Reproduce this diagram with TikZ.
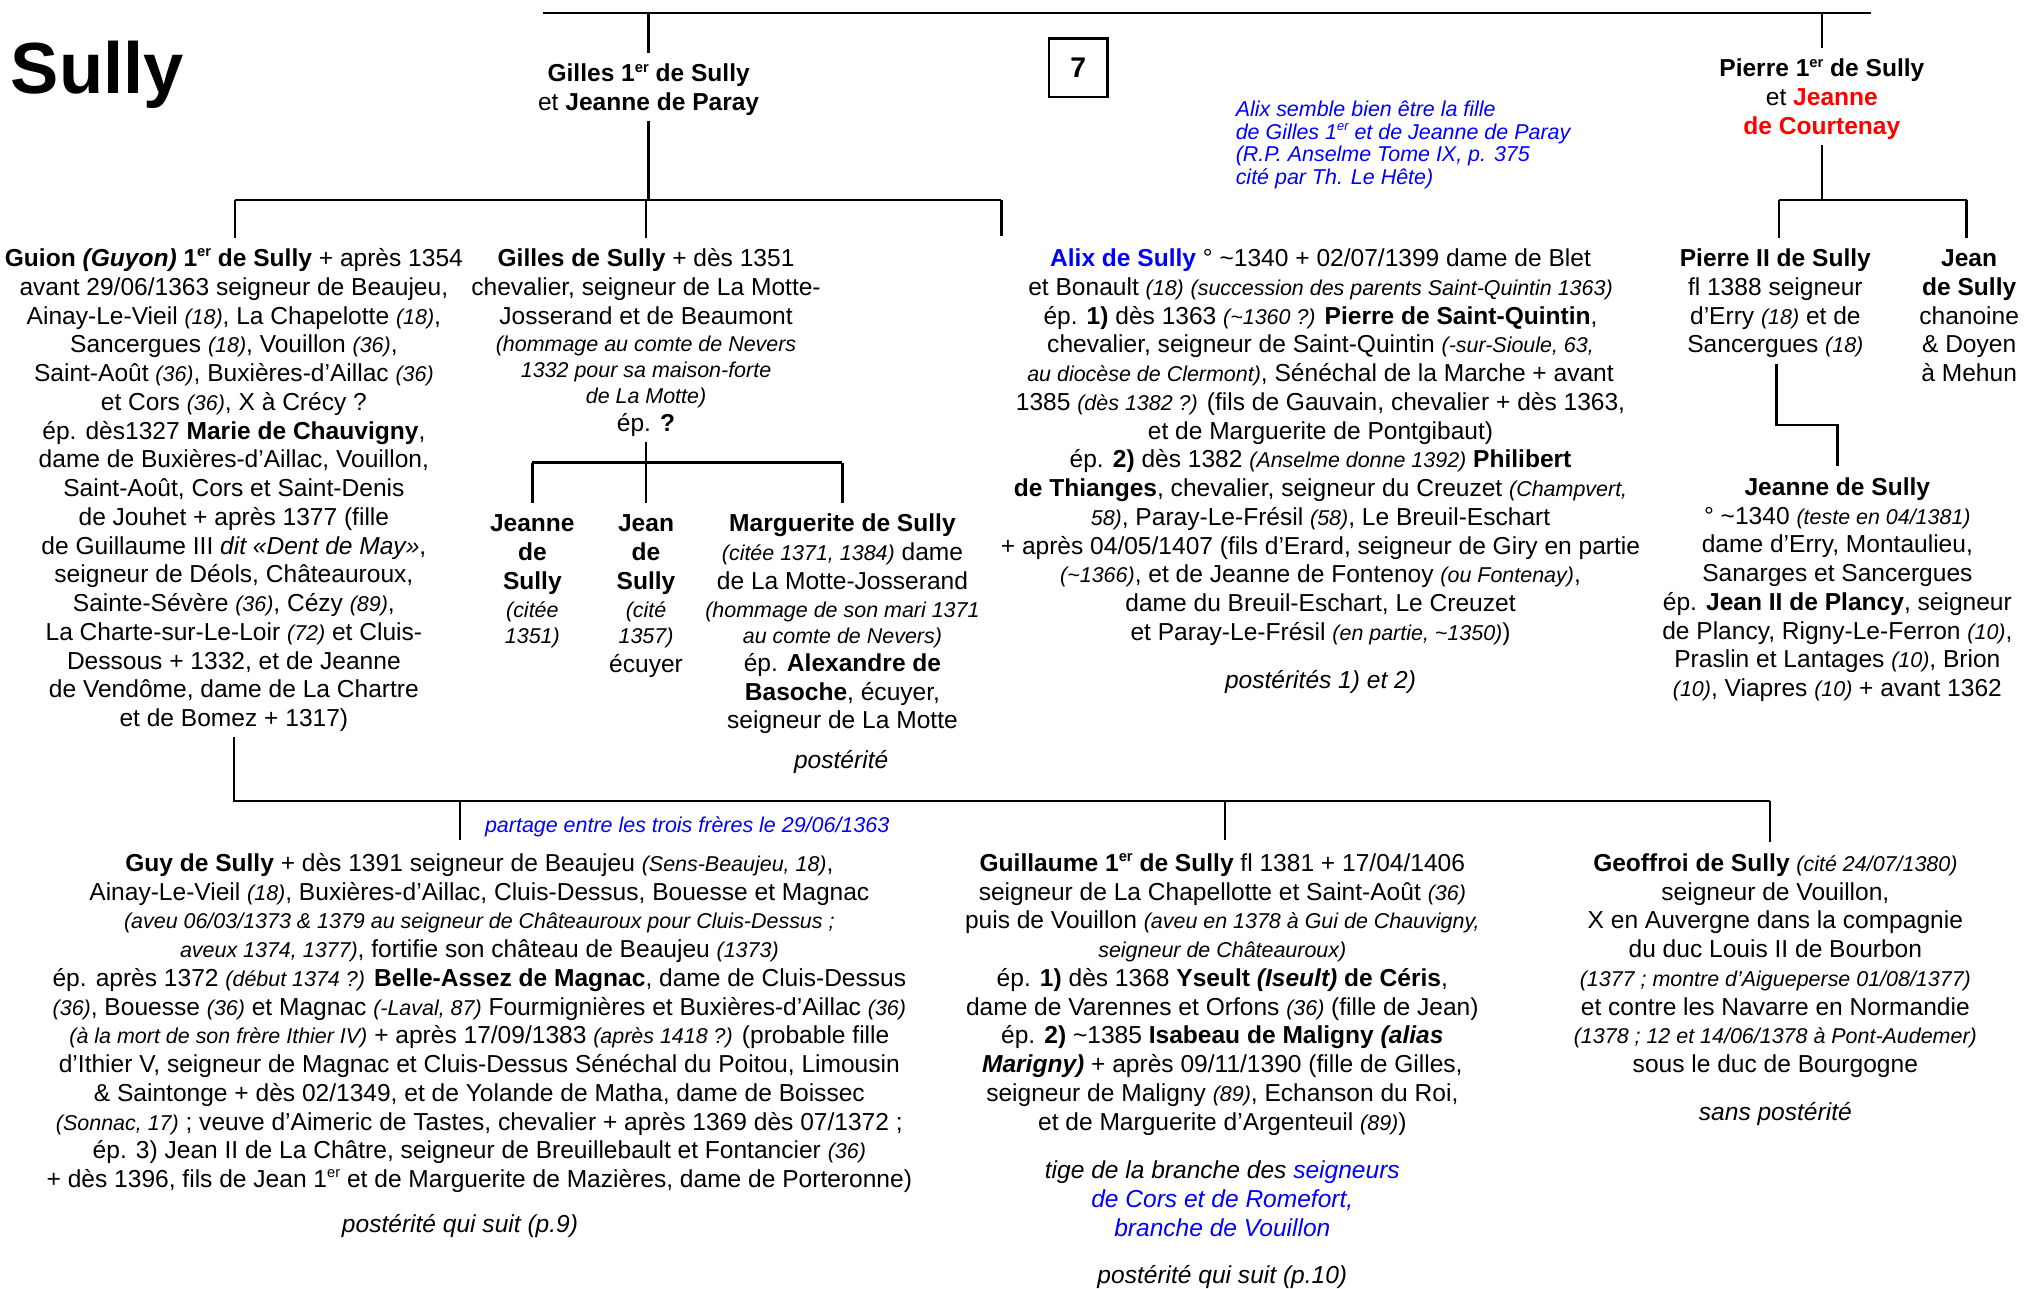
\documentclass[tikz,border=0pt]{standalone}
\usepackage{fontspec}
\setmainfont{Liberation Sans}
\newcommand\sm[1]{{\fontsize{8.3}{10}\selectfont\itshape #1}}
\newcommand\st{\rule{0pt}{9pt}}
\newcommand\er{\raisebox{0.75ex}{\scalebox{0.6}{er}}}
\newcommand\tl{\textasciitilde}
\tikzset{
 body/.style={font=\fontsize{9.5}{11.125}\selectfont},
 blk/.style={body, align=center, anchor=north, inner xsep=0pt, inner ysep=2pt},
 note/.style={font=\fontsize{9.5}{11.125}\selectfont\itshape, anchor=base, inner sep=0pt},
 bnote/.style={font=\fontsize{8.3}{8.85}\selectfont\itshape, text=blue, align=left, inner sep=0pt},
 link/.style={line width=0.9pt},
}
\begin{document}
\begin{tikzpicture}[x=0.5pt,y=-0.5pt]
\useasboundingbox (0,0) rectangle (1568,997);

% title and page number
\node[font=\fontsize{28}{30}\selectfont\bfseries, anchor=base west, inner sep=0pt] (title) at (8,72) {Sully};
\node[draw, line width=1pt, minimum width=22.5pt, minimum height=22.5pt, inner sep=0pt,
      font=\fontsize{11}{13}\selectfont\bfseries] (pg) at (834.5,52.5) {7};

% generation 1
\node[blk] (g1) at (502,41) {\st\textbf{Gilles 1\er{} de Sully}\\ et \textbf{Jeanne de Paray}};
\node[blk] (p1) at (1410,37) {\st\textbf{Pierre 1\er{} de Sully}\\ et \textcolor{red}{\textbf{Jeanne}}\\ \textcolor{red}{\textbf{de Courtenay}}};

\node[bnote, anchor=north west] (anote) at (956,74.5) {\rule{0pt}{7.5pt}Alix semble bien être la fille\\
de Gilles 1\er{} et de Jeanne de Paray\\
(R.P. Anselme Tome IX, p. 375\\
cité par Th. Le Hête)};

% generation 2
\node[blk] (guion) at (181,184) {\st\textbf{Guion \textit{(Guyon)} 1\er{} de Sully} + après 1354\\
avant 29/06/1363 seigneur de Beaujeu,\\
Ainay-Le-Vieil \sm{(18)}, La Chapelotte \sm{(18)},\\
Sancergues \sm{(18)}, Vouillon \sm{(36)},\\
Saint-Août \sm{(36)}, Buxières-d’Aillac \sm{(36)}\\
et Cors \sm{(36)}, X à Crécy ?\\
ép. dès1327 \textbf{Marie de Chauvigny},\\
dame de Buxières-d’Aillac, Vouillon,\\
Saint-Août, Cors et Saint-Denis\\
de Jouhet + après 1377 (fille\\
de Guillaume III \textit{dit «Dent de May»},\\
seigneur de Déols, Châteauroux,\\
Sainte-Sévère \sm{(36)}, Cézy \sm{(89)},\\
La Charte-sur-Le-Loir \sm{(72)} et Cluis-\\
Dessous + 1332, et de Jeanne\\
de Vendôme, dame de La Chartre\\
et de Bomez + 1317)};

\node[blk] (gilles) at (500,184) {\st\textbf{Gilles de Sully} + dès 1351\\
chevalier, seigneur de La Motte-\\
Josserand et de Beaumont\\[-0.5pt]
\sm{(hommage au comte de Nevers}\\[-1pt]
\sm{1332 pour sa maison-forte}\\[-1pt]
\sm{de La Motte)}\\[-0.5pt]
ép. \textbf{?}};

\node[blk] (alix) at (1022,184) {\st\textcolor{blue}{\textbf{Alix de Sully}} ° \tl1340 + 02/07/1399 dame de Blet\\
et Bonault \sm{(18)} \sm{(succession des parents Saint-Quintin 1363)}\\
ép. \textbf{1)} dès 1363 \sm{(\tl1360 ?)} \textbf{Pierre de Saint-Quintin},\\
chevalier, seigneur de Saint-Quintin \sm{(-sur-Sioule, 63,}\\
\sm{au diocèse de Clermont)}, Sénéchal de la Marche + avant\\
1385 \sm{(dès 1382 ?)} (fils de Gauvain, chevalier + dès 1363,\\
et de Marguerite de Pontgibaut)\\
ép. \textbf{2)} dès 1382 \sm{(Anselme donne 1392)} \textbf{Philibert}\\
\textbf{de Thianges}, chevalier, seigneur du Creuzet \sm{(Champvert,}\\
\sm{58)}, Paray-Le-Frésil \sm{(58)}, Le Breuil-Eschart\\
+ après 04/05/1407 (fils d’Erard, seigneur de Giry en partie\\
\sm{(\tl1366)}, et de Jeanne de Fontenoy \sm{(ou Fontenay)},\\
dame du Breuil-Eschart, Le Creuzet\\
et Paray-Le-Frésil \sm{(en partie, \tl1350)})};
\node[note] (alixp) at (1022,533) {postérités 1) et 2)};

\node[blk] (p2) at (1374,184) {\st\textbf{Pierre II de Sully}\\ fl 1388 seigneur\\ d’Erry \sm{(18)} et de\\ Sancergues \sm{(18)}};
\node[blk] (jean) at (1524,184) {\st\textbf{Jean}\\ \textbf{de Sully}\\ chanoine\\ \& Doyen\\ à Mehun};

\node[blk] (jeanne) at (1422,361) {\st\textbf{Jeanne de Sully}\\
° \tl1340 \sm{(teste en 04/1381)}\\
dame d’Erry, Montaulieu,\\
Sanarges et Sancergues\\
ép. \textbf{Jean II de Plancy}, seigneur\\
de Plancy, Rigny-Le-Ferron \sm{(10)},\\
Praslin et Lantages \sm{(10)}, Brion\\
\sm{(10)}, Viapres \sm{(10)} + avant 1362};

% children of Gilles de Sully
\node[blk] (cj1) at (412,389) {\st\textbf{Jeanne}\\ \textbf{de}\\ \textbf{Sully}\\ \sm{(citée}\\[-1pt] \sm{1351)}};
\node[blk] (cj2) at (500,389) {\st\textbf{Jean}\\ \textbf{de}\\ \textbf{Sully}\\ \sm{(cité}\\[-1pt] \sm{1357)}\\ écuyer};
\node[blk] (marg) at (652,389) {\st\textbf{Marguerite de Sully}\\
\sm{(citée 1371, 1384)} dame\\
de La Motte-Josserand\\
\sm{(hommage de son mari 1371}\\[-1pt]
\sm{au comte de Nevers)}\\[-0.5pt]
ép. \textbf{Alexandre de}\\
\textbf{Basoche}, écuyer,\\
seigneur de La Motte};
\node[note] (margp) at (651,595) {postérité};

% generation 3
\node[bnote, anchor=base west] (partage) at (375,644) {partage entre les trois frères le 29/06/1363};

\node[blk] (guy) at (371,652) {\st\textbf{Guy de Sully} + dès 1391 seigneur de Beaujeu \sm{(Sens-Beaujeu, 18)},\\
Ainay-Le-Vieil \sm{(18)}, Buxières-d’Aillac, Cluis-Dessus, Bouesse et Magnac\\
\sm{(aveu 06/03/1373 \& 1379 au seigneur de Châteauroux pour Cluis-Dessus ;}\\
\sm{aveux 1374, 1377)}, fortifie son château de Beaujeu \sm{(1373)}\\
ép. après 1372 \sm{(début 1374 ?)} \textbf{Belle-Assez de Magnac}, dame de Cluis-Dessus\\
\sm{(36)}, Bouesse \sm{(36)} et Magnac \sm{(-Laval, 87)} Fourmignières et Buxières-d’Aillac \sm{(36)}\\
\sm{(à la mort de son frère Ithier IV)} + après 17/09/1383 \sm{(après 1418 ?)} (probable fille\\
d’Ithier V, seigneur de Magnac et Cluis-Dessus Sénéchal du Poitou, Limousin\\
\& Saintonge + dès 02/1349, et de Yolande de Matha, dame de Boissec\\
\sm{(Sonnac, 17)} ; veuve d’Aimeric de Tastes, chevalier + après 1369 dès 07/1372 ;\\
ép. 3) Jean II de La Châtre, seigneur de Breuillebault et Fontancier \sm{(36)}\\
+ dès 1396, fils de Jean 1\er{} et de Marguerite de Mazières, dame de Porteronne)};
\node[note] (guyp) at (356,954) {postérité qui suit (p.9)};

\node[blk] (guil) at (946,652) {\st\textbf{Guillaume 1\er{} de Sully} fl 1381 + 17/04/1406\\
seigneur de La Chapellotte et Saint-Août \sm{(36)}\\
puis de Vouillon \sm{(aveu en 1378 à Gui de Chauvigny,}\\
\sm{seigneur de Châteauroux)}\\
ép. \textbf{1)} dès 1368 \textbf{Yseult \textit{(Iseult)} de Céris},\\
dame de Varennes et Orfons \sm{(36)} (fille de Jean)\\
ép. \textbf{2)} \tl1385 \textbf{Isabeau de Maligny \textit{(alias}}\\
\textbf{\textit{Marigny)}} + après 09/11/1390 (fille de Gilles,\\
seigneur de Maligny \sm{(89)}, Echanson du Roi,\\
et de Marguerite d’Argenteuil \sm{(89)})};
\node[blk, font=\fontsize{9.5}{11.125}\selectfont\itshape] (tige) at (946,890) {\st tige de la branche des \textcolor{blue}{seigneurs}\\
\textcolor{blue}{de Cors et de Romefort,}\\
\textcolor{blue}{branche de Vouillon}};
\node[note] (guilp) at (946,993) {postérité qui suit (p.10)};

\node[blk] (geof) at (1374,652) {\st\textbf{Geoffroi de Sully} \sm{(cité 24/07/1380)}\\
seigneur de Vouillon,\\
X en Auvergne dans la compagnie\\
du duc Louis II de Bourbon\\
\sm{(1377 ; montre d’Aigueperse 01/08/1377)}\\
et contre les Navarre en Normandie\\
\sm{(1378 ; 12 et 14/06/1378 à Pont-Audemer)}\\
sous le duc de Bourgogne};
\node[note] (geofp) at (1374,867) {sans postérité};

% connectors
\coordinate (tL) at (420,10);
\coordinate (tR) at (1448,10);
\draw[link] (tL) -- (tR);
\draw[link] (g1.north) -- (g1.north |- tL);
\draw[link] (p1.north) -- (p1.north |- tL);

\coordinate (b1L) at (182,155);
\coordinate (b1R) at (775,155);
\coordinate (alixc) at (775,183);
\draw[link] (g1.south) -- (g1.south |- b1L);
\draw[link] (b1L) -- (b1R);
\draw[link] (b1L) -- (b1L |- guion.north);
\draw[link] (gilles.north) -- (gilles.north |- b1L);
\draw[link] (b1R) -- (alixc);

\coordinate (b2L) at (412,358);
\coordinate (b2R) at (652,358);
\draw[link] (gilles.south) -- (gilles.south |- b2L);
\draw[link] (b2L) -- (b2R);
\draw[link] (b2L) -- (b2L |- cj1.north);
\draw[link] (cj2.north |- b2L) -- (cj2.north);
\draw[link] (b2R) -- (b2R |- marg.north);

\coordinate (b3L) at (1377,155);
\coordinate (b3R) at (1522,155);
\draw[link] (p1.south) -- (p1.south |- b3L);
\draw[link] (b3L) -- (b3R);
\draw[link] (b3L) -- (b3L |- p2.north);
\draw[link] (b3R) -- (b3R |- jean.north);
\coordinate (pj) at (1375,329);
\draw[link] (p2.south -| pj) -- (pj) -| (jeanne.north);

\coordinate (b4L) at (180,620);
\coordinate (b4R) at (1370,620);
\coordinate (guyc) at (356,650);
\coordinate (guilc) at (948,650);
\draw[link] (guion.south) -- (guion.south |- b4L);
\draw[link] (b4L) -- (b4R);
\draw[link] (guyc |- b4L) -- (guyc);
\draw[link] (guilc |- b4L) -- (guilc);
\draw[link] (b4R) -- (b4R |- geof.north);
\end{tikzpicture}
\end{document}
